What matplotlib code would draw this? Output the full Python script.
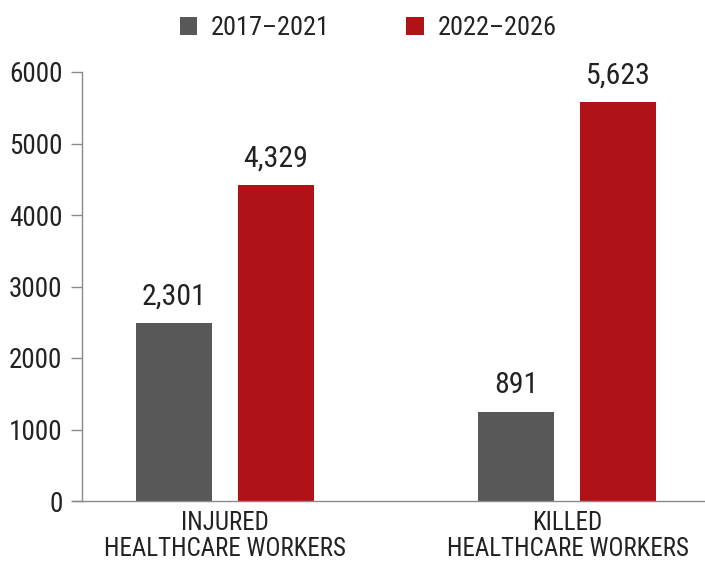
import matplotlib
matplotlib.use("Agg")
import matplotlib.pyplot as plt
import numpy as np

plt.rcParams['font.family'] = ['Roboto Condensed', 'DejaVu Sans']

# データ
categories = ['INJURED\nHEALTHCARE WORKERS', 'KILLED\nHEALTHCARE WORKERS']
series_names = ['2017–2021', '2022–2026']
# 図中の棒の高さ（目盛りから読み取り）
heights_2017 = [2490, 1245]
heights_2022 = [4420, 5580]
# 棒の上に表示されているラベル
labels_2017 = ['2,301', '891']
labels_2022 = ['4,329', '5,623']
yticks = [0, 1000, 2000, 3000, 4000, 5000, 6000]

gray = '#585858'
red = '#b11217'
text_color = '#222222'
axis_color = '#8a8a8a'

fig = plt.figure(figsize=(7.05, 5.7), dpi=100)
ax = fig.add_axes([82 / 705, 1 - 501 / 570, 1 - 82 / 705, (501 - 72) / 570])

x = np.arange(len(categories))
width = 0.2216
offset = 0.1487

bars1 = ax.bar(x - offset, heights_2017, width, color=gray, label=series_names[0])
bars2 = ax.bar(x + offset, heights_2022, width, color=red, label=series_names[1])

for bars, labels in [(bars1, labels_2017), (bars2, labels_2022)]:
    for b, lab in zip(bars, labels):
        ax.annotate(lab, (b.get_x() + b.get_width() / 2, b.get_height()),
                    xytext=(0, 9), textcoords='offset points',
                    ha='center', va='bottom', fontsize=21.5, color=text_color,
                    annotation_clip=False)

ax.set_xlim(-0.4155, 1.401)
ax.set_ylim(0, 6000)
ax.set_yticks(yticks)
ax.set_xticks(x)
ax.set_xticklabels(categories, fontsize=18, color=text_color, linespacing=1.1)
ax.tick_params(axis='x', length=0, pad=7)
ax.tick_params(axis='y', length=8, width=1, color=axis_color,
               labelsize=19.5, labelcolor=text_color, pad=6)

for s in ['top', 'right']:
    ax.spines[s].set_visible(False)
for s in ['left', 'bottom']:
    ax.spines[s].set_color(axis_color)
    ax.spines[s].set_linewidth(1)
ax.spines['bottom'].set_bounds(-0.4155 - 9 / 343, 1.401)

fig.legend(handles=[bars1, bars2], labels=series_names, loc='center',
           bbox_to_anchor=(368 / 705, 1 - 28 / 570), ncol=2, frameon=False,
           fontsize=19, handlelength=0.68, handleheight=0.68,
           handletextpad=0.5, columnspacing=2.9, labelcolor=text_color)

fig.savefig('out.png', dpi=100)
